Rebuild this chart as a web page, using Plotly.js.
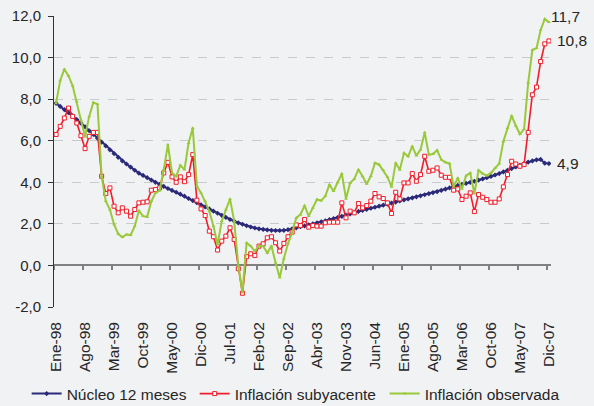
<!DOCTYPE html>
<html>
<head>
<meta charset="utf-8">
<script src="https://cdn.plot.ly/plotly-3.0.1.min.js"></script>
<style>
html,body{margin:0;padding:0;background:#F1F2F4;}
#chart{width:594px;height:406px;}
</style>
</head>
<body>
<div id="chart"></div>
<script>
// Monthly series, Jan-1998 .. Dec-2007 (120 months)
const nucleo = [
 7.80,7.65,7.50,7.35,7.20,7.02,6.85,6.67,6.48,6.30,6.12,5.93,
 5.75,5.56,5.38,5.20,5.03,4.88,4.73,4.58,4.44,4.33,4.22,4.11,
 4.00,3.90,3.80,3.70,3.61,3.52,3.43,3.33,3.22,3.12,3.02,2.92,
 2.82,2.72,2.61,2.51,2.41,2.31,2.21,2.13,2.05,1.98,1.91,1.85,
 1.80,1.76,1.73,1.71,1.69,1.68,1.68,1.69,1.72,1.76,1.81,1.86,
 1.90,1.95,2.00,2.05,2.10,2.15,2.20,2.25,2.30,2.36,2.42,2.48,
 2.54,2.60,2.65,2.70,2.75,2.80,2.85,2.90,2.95,3.00,3.05,3.10,
 3.15,3.20,3.25,3.30,3.35,3.40,3.45,3.50,3.55,3.61,3.67,3.73,
 3.79,3.85,3.90,3.95,4.00,4.05,4.10,4.16,4.22,4.28,4.35,4.42,
 4.50,4.58,4.66,4.74,4.82,4.90,4.97,5.03,5.08,5.10,4.92,4.90
];
const subyacente = [
 6.30,6.69,7.09,7.57,7.17,6.85,6.24,5.62,6.21,6.40,6.40,4.29,
 3.46,3.73,2.85,2.53,2.77,2.61,2.37,2.69,3.01,3.04,3.06,3.62,
 3.65,3.73,4.45,4.96,4.26,4.00,4.26,4.03,4.37,5.33,3.14,2.72,
 2.40,1.65,1.38,0.74,1.17,1.41,1.81,1.25,-0.16,-1.34,0.42,0.56,
 0.48,0.93,1.04,1.33,1.38,1.09,0.69,1.06,1.38,1.60,1.95,1.92,
 2.21,1.84,1.92,1.89,1.89,2.05,2.08,2.08,2.08,3.01,2.29,2.61,
 2.53,2.98,2.77,2.88,3.09,3.46,3.30,3.22,3.01,2.50,3.52,3.20,
 3.97,3.97,4.42,4.05,4.37,5.25,4.53,4.58,4.69,4.34,4.24,4.24,
 3.62,3.68,3.17,3.33,3.49,2.59,3.41,3.28,3.17,3.04,3.04,3.20,
 3.78,4.37,5.01,4.88,4.77,4.85,6.40,8.21,8.58,9.81,10.66,10.80
];
const observada = [
 7.80,8.90,9.44,9.12,8.64,7.89,7.00,6.20,7.17,7.84,7.76,4.29,
 3.09,2.69,1.97,1.52,1.36,1.49,1.46,1.89,2.64,2.37,2.34,3.09,
 3.49,3.60,4.61,5.81,4.45,4.29,4.82,4.61,5.89,6.61,3.81,3.49,
 3.09,2.61,1.89,1.01,2.13,2.69,3.20,2.13,0.00,-1.31,1.09,0.93,
 0.69,0.93,0.93,0.61,0.93,0.13,-0.59,0.33,1.05,1.57,2.29,2.45,
 2.88,2.37,2.77,3.17,3.12,3.33,3.89,3.57,4.00,4.42,3.20,3.97,
 4.16,4.61,4.29,3.92,4.30,4.93,4.85,4.58,4.26,3.78,4.93,4.60,
 5.41,5.25,5.73,5.28,5.57,6.40,5.33,5.36,5.54,5.09,4.96,4.90,
 3.78,4.21,3.68,4.32,4.45,3.46,4.58,4.42,4.32,4.45,4.69,4.90,
 5.97,6.61,7.20,6.72,6.32,6.56,8.80,10.37,10.45,11.33,11.86,11.70
];
const tickLabels = ['Ene-98','Ago-98','Mar-99','Oct-99','May-00','Dic-00','Jul-01','Feb-02','Sep-02',
  'Abr-03','Nov-03','Jun-04','Ene-05','Ago-05','Mar-06','Oct-06','May-07','Dic-07'];
const tickStep = 7;
const yTickVals = [-2,0,2,4,6,8,10,12];
const yTickText = ['-2,0','0,0','2,0','4,0','6,0','8,0','10,0','12,0'];
const seriesNames = ['Núcleo 12 meses','Inflación subyacente','Inflación observada'];
const seriesColors = ['#2B2A78','#F21D2A','#99C93A'];

const n = nucleo.length;
const xIdx = Array.from({length:n},(_,i)=>i);
const tickIdx = tickLabels.map((_,j)=>j*tickStep);
const tickBounds = tickIdx.map(v=>v-0.5);
const fmt = v => v.toFixed(1).replace('.', ',');

const font = {family:'"Liberation Sans", Arial, sans-serif', color:'#262626'};

const traces = [
  {x:xIdx, y:nucleo, name:seriesNames[0], type:'scatter', mode:'lines+markers', legendwidth:123,
   line:{color:seriesColors[0], width:2}, marker:{symbol:'diamond', size:4, color:seriesColors[0]}},
  {x:xIdx, y:subyacente, name:seriesNames[1], type:'scatter', mode:'lines+markers', legendwidth:145,
   line:{color:seriesColors[1], width:1.6}, marker:{symbol:'square', size:4, color:'#FFFFFF', line:{color:seriesColors[1], width:1}}},
  {x:xIdx, y:observada, name:seriesNames[2], type:'scatter', mode:'lines+markers', legendwidth:137,
   line:{color:seriesColors[2], width:2}, marker:{symbol:'triangle-up', size:3.5, color:seriesColors[2]}},
  {x:[xIdx[0]], y:[null], xaxis:'x2', showlegend:false, hoverinfo:'skip', mode:'lines'}
];

const last = n-1;
const annotations = [
  {x:last, y:observada[last], text:fmt(observada[last]), xshift:0, yshift:6},
  {x:last, y:subyacente[last], text:fmt(subyacente[last]), xshift:6, yshift:0},
  {x:last, y:nucleo[last], text:fmt(nucleo[last]), xshift:6, yshift:0}
].map(a=>Object.assign(a,{xref:'x', yref:'y', xanchor:'left', yanchor:'middle', showarrow:false,
  font:Object.assign({}, font, {size:15.5})}));

const layout = {
  width:594, height:406,
  margin:{l:54, r:43, t:16, b:99, autoexpand:false},
  paper_bgcolor:'#F1F2F4', plot_bgcolor:'#F1F2F4',
  font:Object.assign({}, font, {size:15.5}),
  showlegend:true,
  legend:{orientation:'h', xref:'paper', yref:'paper', x:-0.055, xanchor:'left',
    y:-0.299, yanchor:'middle', font:Object.assign({}, font, {size:15.5}), bgcolor:'rgba(0,0,0,0)'},
  xaxis:{range:[-0.5, n-0.5], tickmode:'array', tickvals:tickIdx, ticktext:tickLabels,
    tickangle:-90, ticks:'', showline:false, showgrid:false, zeroline:false,
    ticklabelstandoff:11, tickfont:Object.assign({}, font, {size:15.5})},
  xaxis2:{overlaying:'x', anchor:'free', position:2/14, range:[-0.5, n-0.5],
    tickmode:'array', tickvals:tickBounds, showticklabels:false, ticks:'outside', ticklen:4,
    tickcolor:'#808080', tickwidth:1.5, showline:true, linecolor:'#808080', linewidth:2,
    showgrid:false, zeroline:false, layer:'below traces'},
  yaxis:{range:[-2,12], tickmode:'array', tickvals:yTickVals, ticktext:yTickText,
    ticks:'outside', ticklen:5, tickcolor:'#333333', showline:true, linecolor:'#333333', linewidth:1,
    showgrid:true, gridcolor:'#C9CACC', griddash:'dash', gridwidth:1, zeroline:false,
    ticklabelstandoff:4, tickfont:Object.assign({}, font, {size:15})},
  annotations:annotations
};

Plotly.newPlot('chart', traces, layout, {displayModeBar:false, staticPlot:true});
</script>
</body>
</html>
